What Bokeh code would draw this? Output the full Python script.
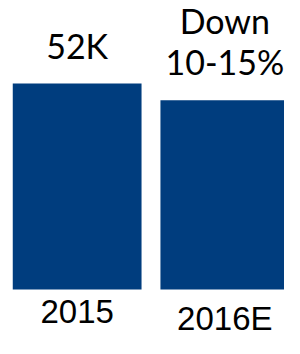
from bokeh.plotting import figure
from bokeh.models import ColumnDataSource, Range1d
from bokeh.core.properties import value
from bokeh.embed import file_html
from bokeh.resources import INLINE

categories = ["2015", "2016E"]
values = [52, 47.8]
bar_labels = ["52K", "Down\n10-15%"]

xpos = list(range(len(categories)))
src = ColumnDataSource(dict(x=xpos, top=values, lab=bar_labels, cat=categories,
                            base=[0] * len(categories)))

# the frame spans the whole figure; the category labels sit below y = 0
p = figure(width=284, height=338, output_backend="svg", toolbar_location=None,
           x_range=Range1d(-0.519, 1.404), y_range=Range1d(-12.37, 72.98),
           min_border=0, outline_line_color=None)
p.xaxis.visible = False
p.yaxis.visible = False
p.xgrid.visible = False
p.ygrid.visible = False
p.background_fill_color = "white"
p.border_fill_color = "white"

p.vbar(x="x", top="top", bottom=0, width=0.872, source=src,
       fill_color="#003D7E", line_color=None)

p.text(x="x", y="top", text="lab", source=src, text_align="center",
       text_baseline="bottom", text_font=value("Lato"), text_font_size="34px",
       text_line_height=1.0, text_color="black", y_offset=-18)

p.text(x="x", y="base", text="cat", source=src, text_align="center",
       text_baseline="top", text_font=value("Liberation Sans"),
       text_font_size="33px", text_color="black", y_offset=10)

open("out.html", "w").write(file_html(p, INLINE))
